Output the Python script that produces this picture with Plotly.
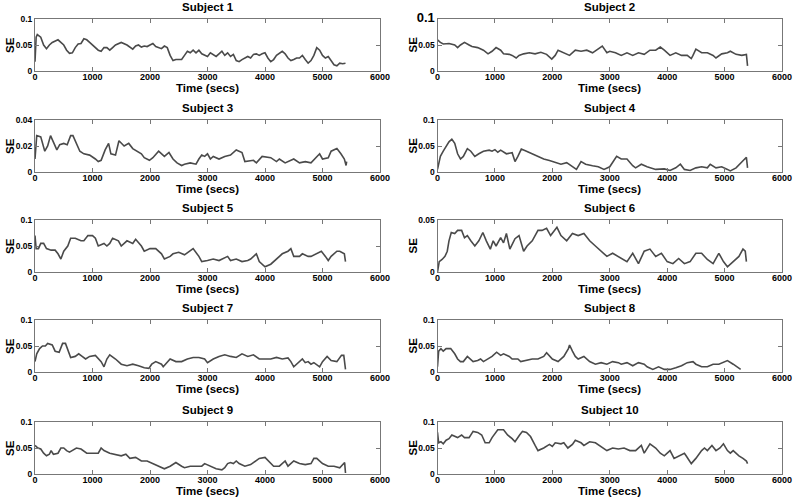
import plotly.graph_objects as go

# ---------------- data ----------------
s1_t = [0,20,40,100,150,200,250,300,400,450,500,550,600,650,700,750,800,850,900,950,1000,1100,1150,1200,1250,1300,1350,1400,1500,1550,1600,1700,1750,1800,1850,1900,1950,2000,2050,2100,2200,2250,2300,2350,2400,2450,2550,2600,2650,2700,2750,2800,2850,2900,2950,3000,3050,3100,3150,3200,3250,3300,3350,3400,3450,3500,3550,3600,3650,3700,3750,3800,3850,3900,3950,4000,4050,4100,4150,4200,4300,4350,4400,4450,4500,4550,4600,4650,4700,4750,4800,4850,4900,4950,5000,5050,5100,5150,5200,5250,5300,5350,5400]
s1_se = [0.018,0.065,0.07,0.065,0.05,0.043,0.05,0.055,0.06,0.055,0.05,0.04,0.034,0.035,0.045,0.052,0.053,0.062,0.06,0.055,0.05,0.04,0.038,0.045,0.045,0.04,0.045,0.05,0.055,0.053,0.05,0.042,0.048,0.05,0.046,0.048,0.047,0.05,0.053,0.047,0.043,0.048,0.045,0.03,0.02,0.022,0.022,0.03,0.038,0.035,0.04,0.035,0.04,0.033,0.03,0.028,0.035,0.032,0.028,0.033,0.038,0.03,0.035,0.028,0.032,0.02,0.018,0.022,0.025,0.028,0.025,0.032,0.033,0.03,0.033,0.035,0.025,0.018,0.022,0.03,0.038,0.033,0.025,0.02,0.022,0.025,0.025,0.03,0.022,0.015,0.02,0.03,0.045,0.04,0.03,0.025,0.028,0.02,0.012,0.01,0.015,0.014,0.015]

s2_t = [0,50,100,200,300,350,400,470,550,600,700,800,880,950,1020,1100,1150,1250,1300,1370,1420,1500,1600,1700,1800,1900,1990,2050,2100,2200,2300,2400,2500,2600,2700,2870,2950,3000,3100,3200,3300,3400,3500,3600,3700,3800,3880,3950,4050,4150,4250,4350,4420,4450,4500,4600,4700,4800,4850,4950,5050,5100,5200,5300,5380,5400]
s2_se = [0.06,0.055,0.052,0.053,0.05,0.045,0.05,0.055,0.05,0.047,0.045,0.04,0.033,0.038,0.045,0.04,0.033,0.032,0.03,0.025,0.03,0.033,0.035,0.033,0.036,0.032,0.023,0.03,0.04,0.035,0.03,0.04,0.038,0.04,0.035,0.048,0.035,0.038,0.035,0.03,0.035,0.03,0.035,0.032,0.04,0.04,0.046,0.04,0.03,0.035,0.03,0.03,0.024,0.03,0.042,0.035,0.035,0.03,0.025,0.033,0.035,0.038,0.032,0.03,0.032,0.01]

s3_t = [0,30,100,150,170,220,270,330,380,430,500,560,620,660,720,780,850,950,1050,1100,1150,1220,1280,1320,1400,1460,1550,1630,1700,1800,1850,1900,1990,2050,2150,2250,2330,2400,2470,2550,2600,2700,2800,2850,2900,2950,3000,3050,3100,3200,3300,3400,3500,3600,3650,3800,3850,3950,4100,4200,4250,4350,4400,4500,4600,4700,4800,4900,4950,5000,5100,5150,5250,5320,5380,5410,5420]
s3_se = [0.01,0.028,0.027,0.02,0.016,0.02,0.028,0.022,0.017,0.021,0.022,0.021,0.028,0.028,0.022,0.016,0.014,0.013,0.01,0.008,0.009,0.017,0.022,0.014,0.013,0.024,0.02,0.022,0.018,0.015,0.014,0.011,0.009,0.011,0.016,0.012,0.015,0.01,0.007,0.005,0.006,0.007,0.006,0.01,0.013,0.012,0.014,0.01,0.012,0.01,0.012,0.013,0.017,0.015,0.008,0.009,0.007,0.012,0.011,0.008,0.01,0.007,0.008,0.01,0.007,0.008,0.007,0.012,0.014,0.01,0.011,0.016,0.018,0.014,0.01,0.005,0.008]

s4_t = [0,50,100,150,200,250,300,350,400,450,520,580,650,720,800,900,950,1000,1050,1100,1200,1300,1350,1400,1460,1550,1650,1750,1850,1950,2050,2150,2250,2350,2420,2500,2580,2700,2800,2900,3000,3120,3200,3300,3400,3450,3550,3650,3800,3950,4050,4150,4230,4300,4400,4500,4600,4700,4750,4850,4950,5050,5100,5200,5280,5350,5380,5400]
s4_se = [0.005,0.03,0.04,0.05,0.058,0.063,0.055,0.035,0.025,0.03,0.045,0.04,0.03,0.035,0.04,0.042,0.04,0.043,0.038,0.042,0.035,0.037,0.02,0.03,0.044,0.04,0.035,0.03,0.025,0.022,0.018,0.015,0.018,0.01,0.005,0.02,0.015,0.012,0.01,0.005,0.01,0.03,0.025,0.025,0.012,0.008,0.015,0.01,0.005,0.006,0.003,0.008,0.015,0.005,0.003,0.008,0.01,0.008,0.015,0.008,0.01,0.005,0.002,0.008,0.018,0.025,0.028,0.008]

s5_t = [0,20,60,100,150,200,280,350,400,450,500,570,620,700,800,850,920,1000,1050,1100,1200,1250,1300,1350,1450,1500,1600,1700,1750,1850,1900,2000,2100,2200,2250,2350,2400,2500,2600,2700,2750,2850,2900,3000,3100,3200,3300,3350,3400,3500,3600,3700,3750,3850,3900,4000,4100,4200,4300,4400,4450,4500,4600,4650,4750,4800,4900,4980,5050,5100,5150,5250,5300,5380,5400]
s5_se = [0.07,0.045,0.045,0.055,0.055,0.045,0.042,0.042,0.035,0.025,0.04,0.05,0.065,0.065,0.06,0.06,0.07,0.07,0.065,0.05,0.055,0.05,0.055,0.065,0.06,0.05,0.06,0.055,0.063,0.05,0.04,0.045,0.045,0.035,0.025,0.03,0.035,0.038,0.033,0.04,0.045,0.03,0.02,0.022,0.025,0.022,0.028,0.03,0.022,0.025,0.02,0.022,0.025,0.035,0.02,0.01,0.015,0.025,0.035,0.04,0.045,0.03,0.03,0.035,0.03,0.03,0.035,0.04,0.03,0.022,0.03,0.04,0.04,0.035,0.02]

s6_t = [0,30,80,130,170,200,240,300,350,420,470,520,580,650,720,790,850,920,970,1020,1100,1150,1200,1260,1350,1420,1500,1560,1650,1750,1820,1900,1970,2080,2150,2250,2350,2450,2550,2650,2750,2850,2950,3050,3150,3300,3400,3500,3600,3700,3800,3900,4000,4100,4200,4300,4400,4500,4600,4700,4800,4900,4980,5050,5150,5250,5320,5360,5380]
s6_se = [0.0,0.01,0.012,0.015,0.02,0.03,0.038,0.037,0.04,0.04,0.033,0.035,0.03,0.025,0.03,0.038,0.03,0.022,0.03,0.025,0.033,0.028,0.037,0.022,0.032,0.035,0.02,0.025,0.03,0.04,0.04,0.042,0.035,0.043,0.035,0.03,0.037,0.035,0.037,0.03,0.025,0.02,0.015,0.018,0.015,0.01,0.018,0.008,0.02,0.022,0.015,0.018,0.01,0.008,0.013,0.008,0.01,0.018,0.018,0.012,0.008,0.018,0.01,0.005,0.01,0.015,0.022,0.02,0.01]

s7_t = [0,30,80,130,180,220,300,350,420,480,530,580,620,700,760,820,880,950,1050,1150,1200,1250,1300,1400,1500,1600,1700,1800,1900,1980,2030,2100,2200,2230,2300,2350,2450,2550,2650,2750,2850,2950,3000,3100,3200,3300,3400,3500,3600,3700,3800,3900,4000,4100,4200,4300,4400,4450,4500,4600,4650,4700,4750,4800,4850,4950,5000,5080,5150,5250,5330,5370,5400]
s7_se = [0.02,0.035,0.045,0.05,0.05,0.055,0.052,0.04,0.038,0.055,0.055,0.04,0.028,0.03,0.035,0.03,0.025,0.03,0.032,0.02,0.01,0.025,0.033,0.025,0.015,0.012,0.015,0.012,0.008,0.007,0.015,0.02,0.015,0.01,0.02,0.025,0.02,0.02,0.025,0.028,0.028,0.025,0.018,0.025,0.03,0.033,0.03,0.028,0.035,0.03,0.033,0.025,0.025,0.025,0.028,0.025,0.027,0.02,0.01,0.02,0.025,0.018,0.02,0.015,0.018,0.01,0.02,0.03,0.022,0.02,0.032,0.032,0.005]

s8_t = [0,20,60,100,150,230,300,350,400,450,520,580,620,700,750,800,880,950,1030,1100,1150,1250,1300,1400,1450,1550,1650,1750,1850,1900,2000,2100,2200,2280,2300,2350,2400,2450,2550,2650,2750,2850,2950,3050,3150,3200,3300,3400,3500,3600,3650,3750,3850,3950,4050,4150,4250,4350,4450,4500,4600,4700,4800,4900,5000,5050,5150,5250,5280]
s8_se = [0.01,0.04,0.045,0.04,0.045,0.045,0.035,0.025,0.02,0.02,0.03,0.025,0.02,0.022,0.025,0.02,0.025,0.03,0.038,0.032,0.035,0.03,0.025,0.025,0.02,0.022,0.025,0.025,0.03,0.037,0.025,0.02,0.03,0.045,0.052,0.04,0.03,0.025,0.03,0.02,0.015,0.018,0.015,0.02,0.018,0.015,0.018,0.012,0.018,0.015,0.01,0.005,0.01,0.005,0.005,0.008,0.012,0.018,0.02,0.015,0.01,0.01,0.015,0.015,0.02,0.022,0.015,0.008,0.005]

s9_t = [0,50,100,150,200,250,280,320,400,450,500,550,600,650,720,800,900,1000,1100,1150,1200,1300,1400,1500,1580,1650,1750,1850,1950,2050,2150,2250,2350,2450,2550,2600,2700,2800,2900,2950,3050,3150,3250,3300,3350,3400,3450,3500,3550,3650,3750,3850,3900,4000,4100,4150,4250,4300,4350,4400,4450,4500,4600,4700,4800,4850,4900,5000,5100,5200,5300,5380,5385,5400]
s9_se = [0.055,0.05,0.048,0.04,0.035,0.038,0.045,0.038,0.04,0.05,0.05,0.045,0.042,0.045,0.05,0.048,0.04,0.04,0.04,0.05,0.045,0.04,0.038,0.035,0.038,0.03,0.032,0.025,0.025,0.02,0.015,0.01,0.015,0.022,0.015,0.012,0.015,0.015,0.015,0.02,0.015,0.01,0.008,0.012,0.02,0.022,0.02,0.025,0.02,0.015,0.018,0.025,0.03,0.032,0.02,0.015,0.015,0.02,0.025,0.015,0.02,0.025,0.02,0.018,0.02,0.03,0.03,0.02,0.015,0.015,0.012,0.02,0.022,0.002]

s10_t = [0,20,60,100,150,200,250,350,420,470,550,620,700,770,830,900,950,1050,1150,1220,1300,1350,1430,1480,1550,1620,1700,1750,1850,1950,2000,2050,2150,2200,2270,2350,2400,2500,2550,2650,2750,2850,2950,3050,3150,3250,3350,3450,3550,3600,3650,3700,3800,3880,3950,4050,4120,4200,4300,4330,4420,4500,4600,4650,4700,4780,4850,4920,4980,5050,5100,5150,5250,5320,5380,5400]
s10_se = [0.08,0.06,0.062,0.058,0.065,0.068,0.075,0.07,0.075,0.07,0.07,0.082,0.08,0.075,0.06,0.06,0.07,0.085,0.085,0.075,0.068,0.062,0.075,0.082,0.08,0.072,0.055,0.045,0.05,0.057,0.053,0.06,0.058,0.06,0.05,0.057,0.065,0.06,0.055,0.062,0.06,0.053,0.045,0.05,0.048,0.05,0.045,0.045,0.055,0.04,0.05,0.058,0.05,0.04,0.035,0.045,0.03,0.035,0.04,0.035,0.02,0.03,0.045,0.05,0.045,0.055,0.045,0.05,0.058,0.045,0.04,0.045,0.035,0.03,0.025,0.02]

subjects = ["Subject 1", "Subject 2", "Subject 3", "Subject 4", "Subject 5",
            "Subject 6", "Subject 7", "Subject 8", "Subject 9", "Subject 10"]
times = [s1_t, s2_t, s3_t, s4_t, s5_t, s6_t, s7_t, s8_t, s9_t, s10_t]
values = [s1_se, s2_se, s3_se, s4_se, s5_se, s6_se, s7_se, s8_se, s9_se, s10_se]

x_label = "Time (secs)"
y_label = "SE"
x_ticks = [0, 1000, 2000, 3000, 4000, 5000, 6000]
y_max = [0.1, 0.1, 0.04, 0.1, 0.1, 0.05, 0.1, 0.1, 0.1, 0.1]
y_ticks = [[0, 0.05, 0.1], [0, 0.05, 0.1], [0, 0.02, 0.04], [0, 0.05, 0.1], [0, 0.05, 0.1],
           [0, 0.05], [0, 0.05, 0.1], [0, 0.05, 0.1], [0, 0.05, 0.1], [0, 0.05, 0.1]]
y_ticktext = [["0", "0.05", "0.1"],
              ["0", "0.05", "<span style='font-size:13px'>0.1</span>"],
              ["0", "0.02", "0.04"], ["0", "0.05", "0.1"], ["0", "0.05", "0.1"],
              ["0", "0.05"], ["0", "0.05", "0.1"], ["0", "0.05", "0.1"],
              ["0", "0.05", "0.1"], ["0", "0.05", "0.1"]]

# ---------------- layout geometry (pixels) ----------------
W, H = 793, 499
col_px = [(35, 380), (437.5, 782)]
row_px = [(19, 71), (120, 172), (220, 272), (320, 372), (422, 474)]

FONT = "Liberation Sans, Arial, Helvetica, sans-serif"
LINE_COLOR = "#4a4a4a"
FRAME = "#777777"
BOLD_T = dict(family=FONT, size=11.5, color="black", weight="bold")

fig = go.Figure()
annotations = []
layout = {}
for i in range(10):
    r, c = divmod(i, 2)
    x0, x1 = col_px[c]
    top, bot = row_px[r]
    xd = [x0 / W, x1 / W]
    yd = [1 - bot / H, 1 - top / H]
    n = "" if i == 0 else str(i + 1)
    fig.add_trace(go.Scatter(x=times[i], y=values[i], mode="lines",
                             line=dict(color=LINE_COLOR, width=1.6),
                             xaxis="x" + n, yaxis="y" + n, showlegend=False))
    layout["xaxis" + n] = dict(
        domain=xd, anchor="y" + n, range=[0, 6000], tickvals=x_ticks,
        ticks="inside", ticklen=4, tickcolor=FRAME, showline=True, linecolor=FRAME,
        linewidth=1, mirror="ticks", showgrid=False, zeroline=False, automargin=False,
        ticklabelstandoff=-3,
        tickfont=dict(family=FONT, size=9, color="black", weight="bold"),
        fixedrange=True)
    layout["yaxis" + n] = dict(
        domain=yd, anchor="x" + n, range=[0, y_max[i]], tickvals=y_ticks[i],
        ticktext=y_ticktext[i], automargin=False,
        ticks="inside", ticklen=4, tickcolor=FRAME, showline=True, linecolor=FRAME,
        linewidth=1, mirror="ticks", showgrid=False, zeroline=False,
        tickfont=dict(family=FONT, size=8.5, color="black", weight="bold"),
        fixedrange=True)
    cx = (xd[0] + xd[1]) / 2
    annotations.append(dict(
        text=subjects[i], x=cx, y=1 - (top - 12) / H,
        xref="paper", yref="paper", xanchor="center", yanchor="middle",
        showarrow=False, font=BOLD_T))
    annotations.append(dict(
        text=x_label, x=cx, y=1 - (bot + 16.5) / H,
        xref="paper", yref="paper", xanchor="center", yanchor="middle",
        showarrow=False, font=BOLD_T))
    annotations.append(dict(
        text=y_label, x=(x0 - 25) / W, y=(yd[0] + yd[1]) / 2, textangle=-90,
        xref="paper", yref="paper", xanchor="center", yanchor="middle",
        showarrow=False, font=BOLD_T))

fig.update_layout(**layout)
fig.update_layout(
    width=W, height=H, margin=dict(l=0, r=0, t=0, b=0, autoexpand=False),
    paper_bgcolor="white", plot_bgcolor="white",
    annotations=annotations, showlegend=False)

fig.write_html("out.html", config={"displayModeBar": False},
               post_script="document.body.style.margin='0';document.body.style.overflow='hidden';")
